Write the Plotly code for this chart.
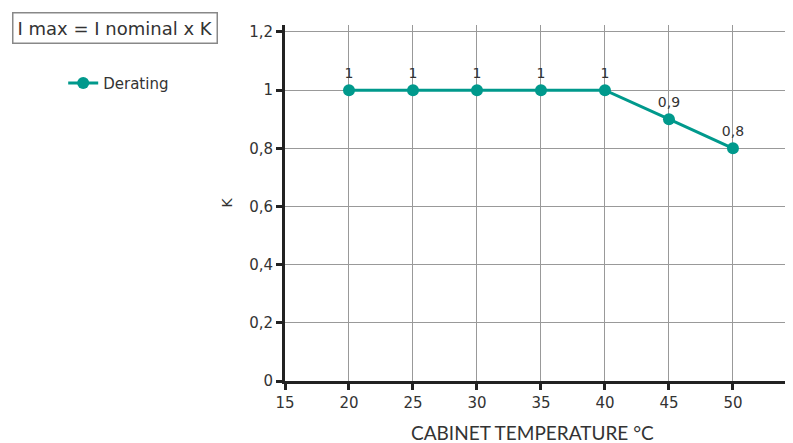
import plotly.graph_objects as go

temps = [20, 25, 30, 35, 40, 45, 50]
k_values = [1, 1, 1, 1, 1, 0.9, 0.8]
labels = ["1", "1", "1", "1", "1", "0,9", "0,8"]
x_ticks = [15, 20, 25, 30, 35, 40, 45, 50]
y_ticks = [0, 0.2, 0.4, 0.6, 0.8, 1.0, 1.2]
y_ticktext = ["0", "0,2", "0,4", "0,6", "0,8", "1", "1,2"]

teal = "#00998C"
txt = "#333333"

fig = go.Figure()
fig.add_trace(go.Scatter(
    x=temps, y=k_values, mode="lines+markers+text", name="Derating",
    text=labels, textposition="top center",
    textfont=dict(family="DejaVu Sans", size=14, color=txt),
    line=dict(color=teal, width=3),
    marker=dict(color=teal, size=12),
    cliponaxis=False,
))

fig.update_layout(
    width=793, height=443,
    margin=dict(l=277, r=7, t=17, b=70),
    paper_bgcolor="white", plot_bgcolor="white",
    showlegend=True,
    legend=dict(xref="container", yref="container", x=0.0696, y=0.83,
                xanchor="left", yanchor="middle",
                font=dict(family="DejaVu Sans", size=15, color=txt),
                bgcolor="rgba(0,0,0,0)"),
    xaxis=dict(
        range=[15, 54.77], tickvals=x_ticks, showgrid=True, gridcolor="#999",
        gridwidth=1, showline=True, linecolor="#222", linewidth=3,
        ticks="outside", ticklen=6, tickwidth=3, tickcolor="#222",
        tickfont=dict(family="DejaVu Sans", size=15, color=txt),
        zeroline=False,
    ),
    yaxis=dict(
        range=[0, 1.224], tickvals=y_ticks, ticktext=y_ticktext,
        showgrid=True, gridcolor="#999", gridwidth=1,
        showline=True, linecolor="#222", linewidth=3,
        ticks="outside", ticklen=6, tickwidth=3, tickcolor="#222",
        tickfont=dict(family="DejaVu Sans", size=15, color=txt),
        title=dict(text="K", font=dict(family="DejaVu Sans", size=14, color=txt),
                   standoff=14),
        zeroline=False,
    ),
    annotations=[
        dict(
            text="I max = I nominal x K", xref="paper", yref="paper",
            x=-0.536, y=0.9916, xanchor="left", yanchor="middle",
            showarrow=False, font=dict(family="DejaVu Sans", size=18, color=txt),
            bordercolor="#888", borderwidth=1.5, borderpad=4, bgcolor="white",
        ),
        dict(
            text="CABINET TEMPERATURE °C", xref="paper", yref="paper",
            x=0.487, y=-0.146, xanchor="center", yanchor="middle",
            showarrow=False, font=dict(family="Lato", size=19, color=txt),
        ),
    ],
)

fig.write_html("out.html")
